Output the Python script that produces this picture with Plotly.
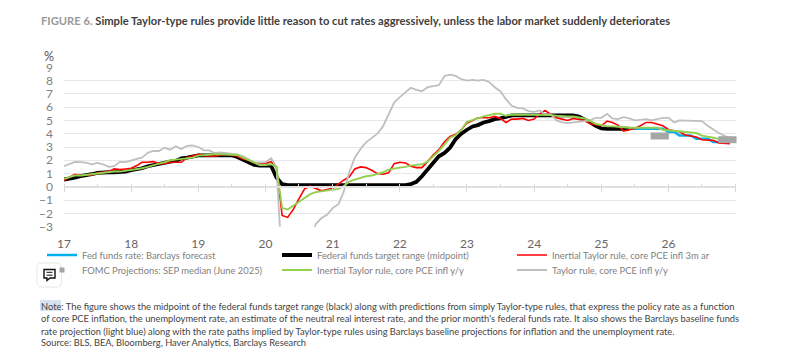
import plotly.graph_objects as go

W, H = 786, 357
months = [f"{y}-{m:02d}-01" for y in range(2017, 2027) for m in range(1, 13)]
year_ticks = ["17", "18", "19", "20", "21", "22", "23", "24", "25", "26"]
y_ticks = [9, 8, 7, 6, 5, 4, 3, 2, 1, 0, -1, -2, -3]

fed_target = [0.55,0.6,0.7,0.8,0.85,0.95,1.05,1.1,1.1,1.1,1.1,1.15,
 1.25,1.3,1.4,1.55,1.65,1.75,1.85,1.9,1.95,2.15,2.2,2.3,
 2.375,2.375,2.375,2.375,2.375,2.375,2.375,2.25,2.05,1.85,1.65,1.6,
 1.6,1.6,0.7,0.2,0.125,0.125,0.125,0.125,0.125,0.125,0.125,0.125,
 0.125,0.125,0.125,0.125,0.125,0.125,0.125,0.125,0.125,0.125,0.125,0.125,
 0.125,0.125,0.2,0.375,0.8,1.3,1.8,2.3,2.55,2.95,3.6,4.0,
 4.3,4.55,4.65,4.85,4.95,5.1,5.15,5.3,5.375,5.375,5.375,5.375,
 5.375,5.375,5.375,5.375,5.375,5.375,5.375,5.375,5.3,5.1,4.85,4.6,
 4.4,4.375,4.375,4.375,4.375,4.375,None,None,None,None,None,None,
 None,None,None,None,None,None,None,None,None,None,None,None]
barclays = [None]*101 + [4.375,4.375,4.375,4.375,4.375,4.375,4.375,4.125,4.125,3.875,3.875,3.875,3.625,3.625,3.625,3.375,3.375,3.375,3.375,3.375]
inertial_3m = [0.5,0.75,0.95,0.85,0.85,0.9,1.05,1.1,1.15,1.35,1.3,1.35,
 1.4,1.6,1.85,1.85,1.9,1.75,1.75,1.85,1.85,1.85,2.2,2.3,
 2.45,2.35,2.3,2.3,2.4,2.45,2.4,2.3,2.1,2.0,1.8,1.7,
 1.75,1.9,1.5,-2.15,-2.3,-1.7,-0.9,-0.15,0.05,-0.1,-0.3,-0.2,
 -0.1,0.2,0.5,0.75,1.35,1.5,1.45,1.25,1.0,0.95,1.05,1.75,
 1.85,1.8,1.55,1.45,1.45,1.9,2.4,2.8,3.4,3.8,3.95,4.3,
 4.8,5.0,5.2,5.2,5.2,5.3,5.15,4.85,5.1,5.1,5.15,5.0,
 5.1,5.5,5.75,5.45,5.2,5.1,5.0,5.15,5.1,5.0,4.75,4.65,
 4.6,4.95,4.85,4.65,4.2,4.3,4.4,4.6,4.85,4.85,4.75,4.6,
 4.3,4.2,4.15,3.9,3.85,3.75,3.55,3.5,3.5,3.3,3.25,3.25]
inertial_yy = [0.6,0.75,0.85,0.85,0.9,0.95,1.0,1.05,1.1,1.15,1.15,1.2,
 1.25,1.3,1.4,1.5,1.65,1.75,1.85,2.0,2.05,2.1,2.15,2.2,
 2.35,2.4,2.45,2.45,2.45,2.45,2.45,2.4,2.2,2.0,1.85,1.65,
 1.65,1.7,1.5,-1.6,-1.7,-1.4,-1.1,-0.8,-0.55,-0.4,-0.35,-0.3,
 -0.25,-0.15,0.05,0.4,0.55,0.7,0.8,0.85,0.95,1.1,1.3,1.4,
 1.45,1.5,1.6,1.65,1.7,1.9,2.3,2.7,3.2,3.7,3.9,4.3,
 4.9,5.05,5.2,5.3,5.4,5.5,5.5,5.35,5.45,5.45,5.45,5.4,
 5.4,5.4,5.4,5.4,5.35,5.3,5.3,5.3,5.25,5.15,4.95,4.75,
 4.65,4.55,4.55,4.5,4.45,4.45,4.45,4.45,4.45,4.45,4.45,4.3,
 4.25,4.2,4.2,4.1,4.05,4.05,3.85,3.8,3.7,3.6,3.5,3.5]
taylor_yy = [1.55,1.7,1.88,1.86,1.83,1.7,1.8,1.7,1.5,1.55,1.88,1.86,
 2.0,2.1,2.2,2.56,2.7,2.7,2.95,2.8,3.05,2.85,3.08,3.12,
 3.0,2.75,2.75,2.55,2.6,2.55,2.45,2.45,2.3,2.1,1.85,1.85,
 1.85,2.15,1.5,-6.0,-9.0,-9.0,-8.0,-6.5,-4.0,-2.8,-2.35,-2.1,
 -1.6,-1.3,-0.4,1.1,2.2,2.85,3.35,3.7,4.0,4.55,5.5,6.35,
 6.75,7.15,7.45,7.3,7.2,7.5,7.55,7.65,8.35,8.45,8.35,8.1,
 8.0,8.05,8.0,8.05,7.9,7.5,7.2,6.6,6.1,5.95,5.9,5.7,
 5.65,5.75,5.45,5.45,5.0,4.85,4.8,4.85,4.9,4.9,5.0,5.2,
 5.2,5.5,5.15,5.1,5.25,5.15,5.0,5.05,5.1,5.0,5.1,5.2,
 5.2,4.85,5.0,5.0,5.0,5.0,4.95,4.6,4.3,4.05,3.85,3.65]
fomc_dates = ["2025-11-14", "2026-11-17"]
fomc_values = [3.83, 3.55]

title_head = "FIGURE 6."
title_body = "Simple Taylor-type rules provide little reason to cut rates aggressively, unless the labor market suddenly deteriorates"
note_lines = [
 "Note: The figure shows the midpoint of the federal funds target range (black) along with predictions from simply Taylor-type rules, that express the policy rate as a function",
 "of core PCE inflation, the unemployment rate, an estimate of the neutral real interest rate, and the prior month's federal funds rate. It also shows the Barclays baseline funds",
 "rate projection (light blue) along with the rate paths implied by Taylor-type rules using Barclays baseline projections for inflation and the unemployment rate.",
 "Source: BLS, BEA, Bloomberg, Haver Analytics, Barclays Research",
]
FONT = "Lato"
GREY = "#7f7f7f"
TXT = "#444444"

def px(v): return v / W
def py(v): return 1 - v / H

fig = go.Figure()
line_traces = [
 ("Fed funds rate: Barclays forecast", barclays, "#00b0f0", 2.5, "legend"),
 ("Federal funds target range (midpoint)", fed_target, "#000000", 3.8, "legend2"),
 ("Inertial Taylor rule, core PCE infl 3m ar", inertial_3m, "#ff0000", 1.6, "legend3"),
 ("Taylor rule, core PCE infl y/y", taylor_yy, "#bfbfbf", 1.8, "legend6"),
 ("Inertial Taylor rule, core PCE infl y/y", inertial_yy, "#92d050", 1.9, "legend5"),
]
for name, vals, col, w, leg in line_traces:
    fig.add_trace(go.Scatter(x=months, y=vals, name=name, mode="lines", legend=leg,
                             line=dict(color=col, width=w), connectgaps=False))
fig.add_trace(go.Scatter(x=fomc_dates, y=fomc_values, mode="markers", showlegend=False, cliponaxis=False,
                         marker=dict(symbol="line-ew", size=13, color="#a6a6a6",
                                     line=dict(color="#a6a6a6", width=7))))
fig.add_trace(go.Scatter(x=[None], y=[None], mode="markers", name="FOMC Projections: SEP median (June 2025)",
                         legend="legend4", marker=dict(symbol="square", size=5, color="#a6a6a6")))
fig.add_trace(go.Scatter(x=months[:1], y=[None], xaxis="x2", showlegend=False, mode="markers"))
fig.add_trace(go.Scatter(x=months[:1], y=[None], xaxis="x3", showlegend=False, mode="markers"))

rng = ["2017-01-01", "2027-01-01"]
tickvals = [f"{2000+int(t)}-01-01" for t in year_ticks] + ["2027-01-01"]
dom = [px(64), px(735.7)]
zero_pos = py(186.5)
legend_common = dict(orientation="v", yanchor="middle", itemwidth=30, font=dict(size=9.4, color=GREY, family=FONT),
                     bgcolor="rgba(0,0,0,0)")
fig.update_layout(
    width=W, height=H, margin=dict(l=0, r=0, t=0, b=0, autoexpand=False), paper_bgcolor="white", plot_bgcolor="white",
    font=dict(family=FONT, color=GREY, size=12),
    xaxis=dict(domain=dom, range=rng, tickvals=tickvals[:-1], ticktext=year_ticks, showgrid=False, zeroline=False,
               showline=False, ticks="", ticklabelstandoff=8, tickfont=dict(size=12, color="#666666")),
    xaxis2=dict(domain=dom, range=rng, overlaying="x", anchor="free", position=zero_pos, side="bottom",
                tickvals=tickvals, showticklabels=False, ticks="outside", ticklen=4, tickcolor="#d9d9d9",
                tickwidth=1, showgrid=False, zeroline=False, showline=True, linecolor="#e0e0e0", linewidth=2),
    xaxis3=dict(domain=dom, range=rng, overlaying="x", anchor="free", position=zero_pos, side="top",
                dtick="M6", tick0="2017-01-01", showticklabels=False, ticks="outside", ticklen=3,
                tickcolor="#d9d9d9", tickwidth=1, showgrid=False, zeroline=False, showline=False),
    yaxis=dict(domain=[py(226.7), py(67.3)], range=[-3, 9], tickvals=y_ticks, showgrid=True, gridcolor="#e8e8e8",
               gridwidth=1, zeroline=False, showline=False, ticks="", ticklabelstandoff=10,
               tickfont=dict(size=12, color=GREY)),
    legend=dict(x=px(42), y=py(255), **legend_common),
    legend2=dict(x=px(277), y=py(255), **legend_common),
    legend3=dict(x=px(512), y=py(255), **legend_common),
    legend4=dict(x=px(42), y=py(270), **legend_common),
    legend5=dict(x=px(277), y=py(270), **legend_common),
    legend6=dict(x=px(512), y=py(270), **legend_common),
)
ann = [
 dict(x=px(39), y=py(20), text=f"<b><span style='color:#999999'>{title_head}</span> {title_body}</b>",
      font=dict(size=11.2, color="#404040", family=FONT)),
 dict(x=px(42), y=py(56), text="%", font=dict(size=12.5, color="#555555", family=FONT)),
]
for i, t in enumerate(note_lines):
    ann.append(dict(x=px(39), y=py([306, 318.5, 331, 342.5][i]), text=t, font=dict(size=9.3, color=TXT, family=FONT)))
for a in ann:
    a.update(xref="paper", yref="paper", xanchor="left", yanchor="middle", showarrow=False)
fig.update_layout(annotations=ann)

def rrect(x0, y0, x1, y1, r):
    X, Y = px, py
    return (f"M{X(x0+r)},{Y(y0)} L{X(x1-r)},{Y(y0)} Q{X(x1)},{Y(y0)} {X(x1)},{Y(y0+r)} "
            f"L{X(x1)},{Y(y1-r)} Q{X(x1)},{Y(y1)} {X(x1-r)},{Y(y1)} L{X(x0+r)},{Y(y1)} "
            f"Q{X(x0)},{Y(y1)} {X(x0)},{Y(y1-r)} L{X(x0)},{Y(y0+r)} Q{X(x0)},{Y(y0)} {X(x0+r)},{Y(y0)} Z")
bubble = (f"M{px(44)},{py(269.5)} L{px(55)},{py(269.5)} L{px(55)},{py(278)} L{px(50)},{py(278)} "
          f"L{px(47)},{py(280.5)} L{px(47)},{py(278)} L{px(44)},{py(278)} Z")
shapes = [
 dict(type="path", path=rrect(37, 263, 61.5, 287, 5), line=dict(color="#e6e6e6", width=1), fillcolor="white"),
 dict(type="path", path=bubble, line=dict(color="#111111", width=1.4), fillcolor="white"),
 dict(type="line", x0=px(46.5), x1=px(52.5), y0=py(272.3), y1=py(272.3), line=dict(color="#111111", width=1)),
 dict(type="line", x0=px(46.5), x1=px(52.5), y0=py(275.2), y1=py(275.2), line=dict(color="#111111", width=1)),
 dict(type="rect", x0=px(40), x1=px(61), y0=py(300), y1=py(311), fillcolor="#d5e3f3", line=dict(width=0), layer="below"),
]
for s in shapes:
    s.update(xref="paper", yref="paper")
fig.update_layout(shapes=shapes)
fig.write_html("out.html", config=dict(displayModeBar=False), post_script="document.body.style.margin='0';document.body.style.overflow='hidden';")
